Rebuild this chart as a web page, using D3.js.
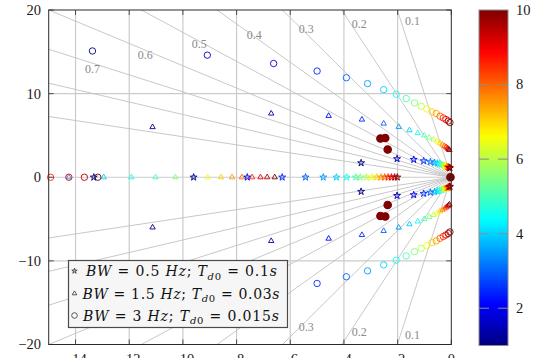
<!DOCTYPE html>
<html>
<head>
<meta charset="utf-8">
<script src="https://cdn.jsdelivr.net/npm/d3@7"></script>
<style>
  body { margin: 0; background: #fff; }
  svg { display: block; }
</style>
</head>
<body>
<svg id="chart" width="537" height="358"></svg>
<script>
// ---- data -------------------------------------------------------------
// sweep parameter (colour value) shared by every pole trajectory
const kValues = [1, 1.5, 2, 2.5, 3, 3.5, 4, 4.5, 5, 5.5, 6, 6.5, 7, 7.5, 8, 8.5, 9, 9.5, 10];

// BW = 0.5 Hz, Td0 = 0.1 s  (stars)
const starComplexRe = [-3.36, -2.02, -1.40, -1.03, -0.78, -0.62, -0.52, -0.44, -0.37, -0.31, -0.26, -0.22, -0.18, -0.15, -0.12, -0.10, -0.08, -0.06, -0.05];
const starComplexIm = [1.71, 2.20, 2.11, 1.95, 1.83, 1.74, 1.66, 1.59, 1.52, 1.46, 1.40, 1.35, 1.30, 1.26, 1.22, 1.19, 1.16, 1.13, 1.10];
const starRealRe = [-13.32, -9.60, -7.60, -6.30, -5.43, -4.77, -4.28, -3.90, -3.56, -3.39, -3.16, -2.96, -2.78, -2.62, -2.48, -2.35, -2.23, -2.11, -2.01];

// BW = 1.5 Hz, Td0 = 0.03 s  (triangles)
const triComplexRe = [-11.13, -6.71, -4.57, -3.33, -2.52, -1.96, -1.56, -1.25, -1.01, -0.82, -0.66, -0.53, -0.42, -0.33, -0.25, -0.19, -0.14, -0.10, -0.07];
const triComplexIm = [6.00, 7.62, 7.34, 6.90, 6.42, 6.02, 5.62, 5.28, 5.00, 4.74, 4.50, 4.28, 4.08, 3.90, 3.74, 3.60, 3.47, 3.36, 3.26];
const triRealK = [3.5, 4, 4.5, 5, 5.5, 6, 6.5, 7, 7.5, 8, 8.5, 9, 9.5, 10];
const triRealRe = [-14.25, -12.95, -11.92, -11.02, -10.28, -9.60, -9.08, -8.58, -8.17, -7.80, -7.42, -7.11, -6.86, -6.58];

// BW = 3 Hz, Td0 = 0.015 s  (circles)
const circComplexRe = [-13.37, -9.09, -6.62, -5.00, -3.91, -3.12, -2.52, -2.05, -1.68, -1.37, -1.12, -0.91, -0.72, -0.56, -0.42, -0.30, -0.20, -0.11, -0.05];
const circComplexIm = [15.10, 14.60, 13.60, 12.70, 11.90, 11.20, 10.48, 9.93, 9.41, 8.89, 8.49, 8.17, 7.81, 7.62, 7.30, 7.09, 6.90, 6.73, 6.54];
const circRealK = [8.5, 9, 9.5, 10];
const circRealRe = [-14.93, -14.25, -13.67, -13.17];
// nearly stationary circle-series poles (all sweep values stacked)
const circFixedRe = [-2.64, -2.46, -2.37, -0.03];
const circFixedIm = [4.63, 4.70, 3.31, 0];
const circFixedK = [10, 10, 10, 10];

// damping-ratio grid
const zetaValues = [0.1, 0.2, 0.3, 0.4, 0.5, 0.6, 0.7, 0.8, 0.9];
const zetaLabelText = ["0.1", "0.2", "0.3", "0.4", "0.5", "0.6", "0.7"];

// axes and legend text
const xTicks = [-14, -12, -10, -8, -6, -4, -2, 0];
const yTicks = [-20, -10, 0, 10, 20];
const cbTicks = [2, 4, 6, 8, 10];
const legendBW = ["0.5", "1.5", "3"];
const legendTd0 = ["0.1", "0.03", "0.015"];
const legendShapes = ["star", "triangle", "circle"];

// ---- layout -------------------------------------------------------------
const plot = { left: 48.7, right: 451.3, top: 10, bottom: 344.5 };
const cbar = { left: 479, right: 508, top: 10, bottom: 345.5 };
// label anchors (data units) along each damping ray, upper half
const zetaLabelPos = [[-1.45, 18.66], [-3.43, 18.30], [-5.40, 17.70], [-7.34, 16.99], [-9.39, 15.91], [-11.40, 14.59], [-13.37, 12.92]];
const serif = "'Liberation Serif', 'DejaVu Serif', serif";
const legendFont = "'DejaVu Serif', 'Liberation Serif', serif";

const svg = d3.select("#chart");
svg.append("rect").attr("width", 537).attr("height", 358).attr("fill", "#fff");

const x = d3.scaleLinear().domain([-15, 0]).range([plot.left, plot.right]);
const y = d3.scaleLinear().domain([-20, 20]).range([plot.bottom, plot.top]);

function jet(t) {
  const c = v => Math.max(0, Math.min(1, v));
  return d3.rgb(255 * c(1.5 - Math.abs(4 * t - 3)), 255 * c(1.5 - Math.abs(4 * t - 2)), 255 * c(1.5 - Math.abs(4 * t - 1))).formatHex();
}
const colorOf = k => jet((k - 1) / 9);

const defs = svg.append("defs");
defs.append("clipPath").attr("id", "plotClip")
  .append("rect").attr("x", plot.left).attr("y", plot.top)
  .attr("width", plot.right - plot.left).attr("height", plot.bottom - plot.top);

const gGrid = svg.append("g").attr("clip-path", "url(#plotClip)");

// major grid
gGrid.selectAll("line.vx").data(xTicks.filter(v => v !== 0)).join("line")
  .attr("x1", d => x(d)).attr("x2", d => x(d))
  .attr("y1", plot.top).attr("y2", plot.bottom)
  .attr("stroke", "#cbcbcb").attr("stroke-width", 1.2);
gGrid.selectAll("line.hy").data(yTicks.filter(v => Math.abs(v) !== 20)).join("line")
  .attr("x1", plot.left).attr("x2", plot.right)
  .attr("y1", d => y(d)).attr("y2", d => y(d))
  .attr("stroke", "#cbcbcb").attr("stroke-width", 1.2);

// constant-damping rays, both half planes
const rays = [];
zetaValues.forEach(z => { rays.push({ z, s: 1 }); rays.push({ z, s: -1 }); });
gGrid.selectAll("line.zeta").data(rays).join("line")
  .attr("x1", x(0)).attr("y1", y(0))
  .attr("x2", d => x(-d.z * 60))
  .attr("y2", d => y(d.s * Math.sqrt(1 - d.z * d.z) * 60))
  .attr("stroke", "#c2c2c2").attr("stroke-width", 0.9);

// ray labels (lower-half labels for the larger ratios sit under the legend box)
const labelData = [];
zetaLabelText.forEach((t, i) => {
  labelData.push({ t, re: zetaLabelPos[i][0], im: zetaLabelPos[i][1], dy: 0 });
  if (i < 3) labelData.push({ t, re: zetaLabelPos[i][0], im: -zetaLabelPos[i][1], dy: 2 });
});
svg.append("g").selectAll("text").data(labelData).join("text")
  .attr("x", d => x(d.re)).attr("y", d => y(d.im) + d.dy)
  .attr("text-anchor", "middle").attr("dominant-baseline", "central")
  .attr("font-family", serif).attr("font-size", 12).attr("fill", "#8a8a8a")
  .text(d => d.t);

// ---- markers --------------------------------------------------------------
const starSym = d3.symbol(d3.symbolStar, 15)();
const triPath = "M0,-3.1L2.7,1.55L-2.7,1.55Z";

function drawMarker(g, shape, color, filled) {
  if (shape === "star") {
    g.append("path").attr("d", starSym).attr("stroke", color).attr("stroke-width", 0.9)
      .attr("fill", color).attr("fill-opacity", 0.25);
  } else if (shape === "triangle") {
    g.append("path").attr("d", triPath).attr("stroke", color).attr("stroke-width", 0.9).attr("fill", "none");
  } else {
    g.append("circle").attr("r", filled ? 3.7 : 3.2).attr("stroke", color).attr("stroke-width", filled ? 1.2 : 0.9)
      .attr("fill", filled ? color : "none");
  }
}

function buildPoints(re, im, ks) {
  const pts = [];
  re.forEach((r, i) => {
    pts.push({ re: r, im: im ? im[i] : 0, k: ks[i] });
    if (im && im[i] !== 0) pts.push({ re: r, im: -im[i], k: ks[i] });
  });
  return pts;
}

const series = [
  { shape: "triangle", pts: buildPoints(triComplexRe, triComplexIm, kValues).concat(buildPoints(triRealRe, null, triRealK)) },
  { shape: "circle", pts: buildPoints(circComplexRe, circComplexIm, kValues).concat(buildPoints(circRealRe, null, circRealK)) },
  { shape: "star", pts: buildPoints(starComplexRe, starComplexIm, kValues).concat(buildPoints(starRealRe, null, kValues)) },
];

const gMarks = svg.append("g");
series.forEach(s => {
  s.pts.forEach(p => {
    const g = gMarks.append("g").attr("transform", `translate(${x(p.re)},${y(p.im)})`);
    drawMarker(g, s.shape, colorOf(p.k), false);
  });
});
buildPoints(circFixedRe, circFixedIm, circFixedK).forEach(p => {
  const g = gMarks.append("g").attr("transform", `translate(${x(p.re)},${y(p.im)})`);
  drawMarker(g, "circle", colorOf(p.k), true);
});

// ---- frame, ticks, tick labels ----------------------------------------------
const axisColor = "#2b2b2b";
svg.append("rect").attr("x", plot.left).attr("y", plot.top)
  .attr("width", plot.right - plot.left).attr("height", plot.bottom - plot.top)
  .attr("fill", "none").attr("stroke", axisColor).attr("stroke-width", 1);

const gTicks = svg.append("g").attr("stroke", axisColor).attr("stroke-width", 0.8);
yTicks.forEach(v => {
  gTicks.append("line").attr("x1", plot.left).attr("x2", plot.left + 5).attr("y1", y(v)).attr("y2", y(v));
  gTicks.append("line").attr("x1", plot.right).attr("x2", plot.right - 5).attr("y1", y(v)).attr("y2", y(v));
});
xTicks.forEach(v => {
  gTicks.append("line").attr("y1", plot.bottom).attr("y2", plot.bottom - 5).attr("x1", x(v)).attr("x2", x(v));
  gTicks.append("line").attr("y1", plot.top).attr("y2", plot.top + 5).attr("x1", x(v)).attr("x2", x(v));
});

const fmt = v => (v < 0 ? "\u2212" : "") + Math.abs(v);
svg.append("g").selectAll("text").data(yTicks).join("text")
  .attr("x", 41).attr("y", d => y(d)).attr("dy", "0.34em")
  .attr("text-anchor", "end").attr("font-family", serif).attr("font-size", 14.5).attr("fill", "#1a1a1a")
  .text(fmt);
svg.append("g").selectAll("text").data(xTicks).join("text")
  .attr("x", d => x(d)).attr("y", 363.5)
  .attr("text-anchor", "middle").attr("font-family", serif).attr("font-size", 14.5).attr("fill", "#1a1a1a")
  .text(fmt);

// ---- colour bar -------------------------------------------------------------
const cbScale = d3.scaleLinear().domain([1, 10]).range([cbar.bottom, cbar.top]);
const grad = defs.append("linearGradient").attr("id", "jetGrad")
  .attr("x1", 0).attr("y1", 1).attr("x2", 0).attr("y2", 0);
d3.range(0, 1.0001, 0.02).forEach(t => {
  grad.append("stop").attr("offset", t).attr("stop-color", jet(t));
});
svg.append("rect").attr("x", cbar.left).attr("y", cbar.top)
  .attr("width", cbar.right - cbar.left).attr("height", cbar.bottom - cbar.top)
  .attr("fill", "url(#jetGrad)").attr("stroke", "#8c8c8c").attr("stroke-width", 1);
const gCb = svg.append("g");
cbTicks.filter(v => v < 10).forEach(v => {
  gCb.append("line").attr("x1", cbar.left).attr("x2", cbar.left + 10).attr("y1", cbScale(v)).attr("y2", cbScale(v))
    .attr("stroke", "#8c8c8c").attr("stroke-width", 1);
  gCb.append("line").attr("x1", cbar.right).attr("x2", cbar.right - 10).attr("y1", cbScale(v)).attr("y2", cbScale(v))
    .attr("stroke", "#8c8c8c").attr("stroke-width", 1);
});
gCb.selectAll("text").data(cbTicks).join("text")
  .attr("x", 516).attr("y", d => cbScale(d)).attr("dy", "0.34em")
  .attr("font-family", serif).attr("font-size", 14.5).attr("fill", "#1a1a1a")
  .text(d => d);

// ---- legend -----------------------------------------------------------------
const legend = { left: 68.5, top: 260.5, width: 219, height: 67, rowY: [271, 293.5, 315.5], textX: [86, 82.5, 83], textW: [191, 197, 196] };
const gLeg = svg.append("g");
gLeg.append("rect").attr("x", legend.left).attr("y", legend.top)
  .attr("width", legend.width).attr("height", legend.height)
  .attr("fill", "#f6f6f6").attr("stroke", "#4a4a4a").attr("stroke-width", 1.2);

legendBW.forEach((bw, i) => {
  const gm = gLeg.append("g").attr("transform", `translate(74.5,${legend.rowY[i]})`);
  if (legendShapes[i] === "star") {
    gm.append("path").attr("d", d3.symbol(d3.symbolStar, 9)()).attr("stroke", "#333").attr("stroke-width", 0.8).attr("fill", "#333").attr("fill-opacity", 0.3);
  } else if (legendShapes[i] === "triangle") {
    gm.append("path").attr("d", "M0,-2.6L2.3,1.3L-2.3,1.3Z").attr("stroke", "#333").attr("stroke-width", 0.8).attr("fill", "none");
  } else {
    gm.append("circle").attr("r", 2.8).attr("stroke", "#333").attr("stroke-width", 0.8).attr("fill", "none");
  }
  const t = gLeg.append("text").attr("x", legend.textX[i]).attr("y", legend.rowY[i]).attr("dy", "0.36em")
    .attr("font-family", legendFont).attr("font-size", 14).attr("fill", "#111");
  const parts = [
    { s: "BW", it: true }, { s: " = " + bw + " " }, { s: "Hz", it: true },
    { s: "; " }, { s: "T", it: true }, { s: "d", it: true, sub: true }, { s: "0", sub: true },
    { s: " = " + legendTd0[i], back: true }, { s: "s", it: true }
  ];
  parts.forEach(p => {
    const ts = t.append("tspan").text(p.s);
    if (p.it) ts.attr("font-style", "italic");
    if (p.sub) ts.attr("font-size", 10);
    if (p.s === "d") ts.attr("dy", 3.5);
    if (p.back) ts.attr("dy", -3.5);
  });
  // spread the row to the width the math typesetting occupies
  const w = t.node().getComputedTextLength();
  if (w > 0 && Math.abs(w - legend.textW[i]) > 2) {
    t.attr("textLength", legend.textW[i]).attr("lengthAdjust", "spacing");
  }
});
</script>
</body>
</html>
